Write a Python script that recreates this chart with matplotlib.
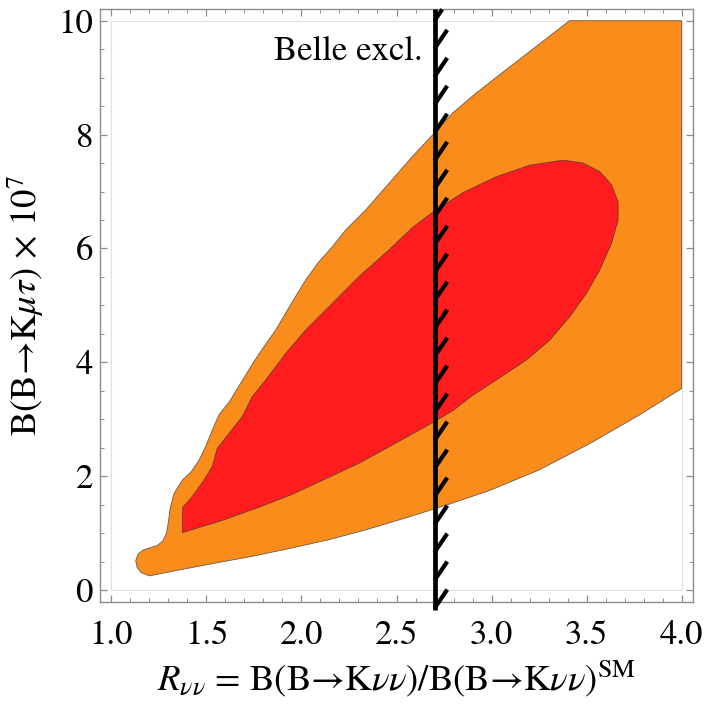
import numpy as np
import matplotlib.pyplot as plt

plt.rcParams['font.family'] = ['STIXGeneral', 'Liberation Serif', 'DejaVu Serif']
plt.rcParams['mathtext.fontset'] = 'stix'

# outer (orange) allowed region, traced clockwise from the bottom of the lobe
outer_x = [1.20, 1.35, 1.54, 1.75, 1.95, 2.15, 2.35, 2.55, 2.76, 2.99,
           3.25, 3.52, 3.78, 4.00,
           4.00, 3.41, 3.36, 3.236, 3.077, 2.919, 2.796, 2.70, 2.585, 2.462,
           2.339, 2.234, 2.16, 2.09, 2.023, 1.953, 1.865, 1.812, 1.751, 1.689,
           1.619, 1.566, 1.531, 1.496, 1.461, 1.42, 1.373, 1.33, 1.31, 1.30,
           1.29, 1.27, 1.24, 1.20, 1.165, 1.14, 1.128, 1.135, 1.155]
outer_y = [0.25, 0.35, 0.47, 0.60, 0.74, 0.89, 1.07, 1.27, 1.49, 1.75,
           2.11, 2.58, 3.08, 3.54,
           10.0, 10.0, 9.87, 9.55, 9.14, 8.73, 8.38, 8.03, 7.62, 7.15,
           6.68, 6.33, 6.02, 5.76, 5.45, 5.07, 4.57, 4.32, 4.02, 3.68,
           3.30, 3.08, 2.81, 2.52, 2.28, 2.08, 1.93, 1.70, 1.45, 1.20,
           1.00, 0.86, 0.78, 0.74, 0.70, 0.63, 0.52, 0.40, 0.31]

# inner (red) region
inner_x = [1.373, 1.58, 1.78, 1.95, 2.111, 2.304, 2.50, 2.70, 2.80, 2.90,
           3.025, 3.183, 3.306, 3.411, 3.499, 3.569, 3.631, 3.666, 3.666, 3.631,
           3.569, 3.481, 3.376, 3.20, 3.025, 2.85, 2.70, 2.585, 2.462, 2.304,
           2.128, 2.023, 1.918, 1.812, 1.742, 1.689, 1.619, 1.557, 1.531, 1.487,
           1.42, 1.375]
inner_y = [1.01, 1.22, 1.46, 1.68, 1.93, 2.23, 2.59, 2.96, 3.16, 3.42,
           3.69, 4.04, 4.39, 4.80, 5.21, 5.62, 6.09, 6.50, 6.82, 7.12,
           7.35, 7.50, 7.55, 7.46, 7.26, 6.98, 6.66, 6.37, 5.98, 5.51,
           4.92, 4.57, 4.16, 3.69, 3.40, 3.05, 2.75, 2.49, 2.17, 1.93,
           1.62, 1.45]

belle_limit = 2.7

fig = plt.figure(figsize=(7.06, 7.08), dpi=100)
ax = fig.add_axes([100/706, 1 - 601.5/708, 593/706, 592.2/708])

ax.fill(outer_x, outer_y, color='#fa8c1c', ec='#6e5a46', lw=0.6, zorder=2)
ax.fill(inner_x, inner_y, color='#ff1c1e', ec='#6e3a30', lw=0.6, zorder=3)

# plot range box
ax.add_patch(plt.Rectangle((1, 0), 3, 10, fill=False, ec='#e0e0e0', lw=0.8, zorder=1))

# Belle exclusion line with hatches
ax.plot([belle_limit, belle_limit], [-0.35, 10.2], color='k', lw=3.4,
        solid_capstyle='butt', zorder=5, clip_on=False)
for yb in np.linspace(-0.32, 10.0, 22):
    y2 = min(yb + 0.33, 10.2)
    x2 = belle_limit + 0.067 * (y2 - yb) / 0.33
    ax.plot([belle_limit, x2], [yb, y2], color='k', lw=3.0,
            solid_capstyle='butt', zorder=5, clip_on=False)

ax.text(2.635, 9.31, 'Belle excl.', fontsize=25, ha='right', va='baseline', zorder=6)

ax.set_xlim(0.94, 4.06)
ax.set_ylim(-0.2, 10.2)
ax.set_xticks(np.arange(1.0, 4.01, 0.5))
ax.set_xticks(np.arange(1.0, 4.01, 0.1), minor=True)
ax.set_yticks(np.arange(0, 11, 2))
ax.set_yticks(np.arange(0, 10.01, 0.5), minor=True)
ax.set_xticklabels(['1.0', '1.5', '2.0', '2.5', '3.0', '3.5', '4.0'])

for s in ax.spines.values():
    s.set_color('#8c8c8c')
    s.set_linewidth(1.0)
ax.tick_params(which='both', direction='in', top=True, right=True, color='#8c8c8c')
ax.tick_params(which='major', length=5, width=0.9, labelsize=25)
ax.tick_params(which='minor', length=3, width=0.7)
ax.tick_params(axis='x', pad=13)
ax.tick_params(axis='y', pad=5)

ax.set_xlabel(r'$R_{\nu\nu}$ = B(B→K$\nu\nu$)/B(B→K$\nu\nu$)$^{\mathrm{SM}}$',
              fontsize=26.5, labelpad=5)
ax.set_ylabel(r'B(B→K$\mu\tau$) × 10$^7$', fontsize=26.5, labelpad=9)

fig.savefig('out.png', dpi=100)
